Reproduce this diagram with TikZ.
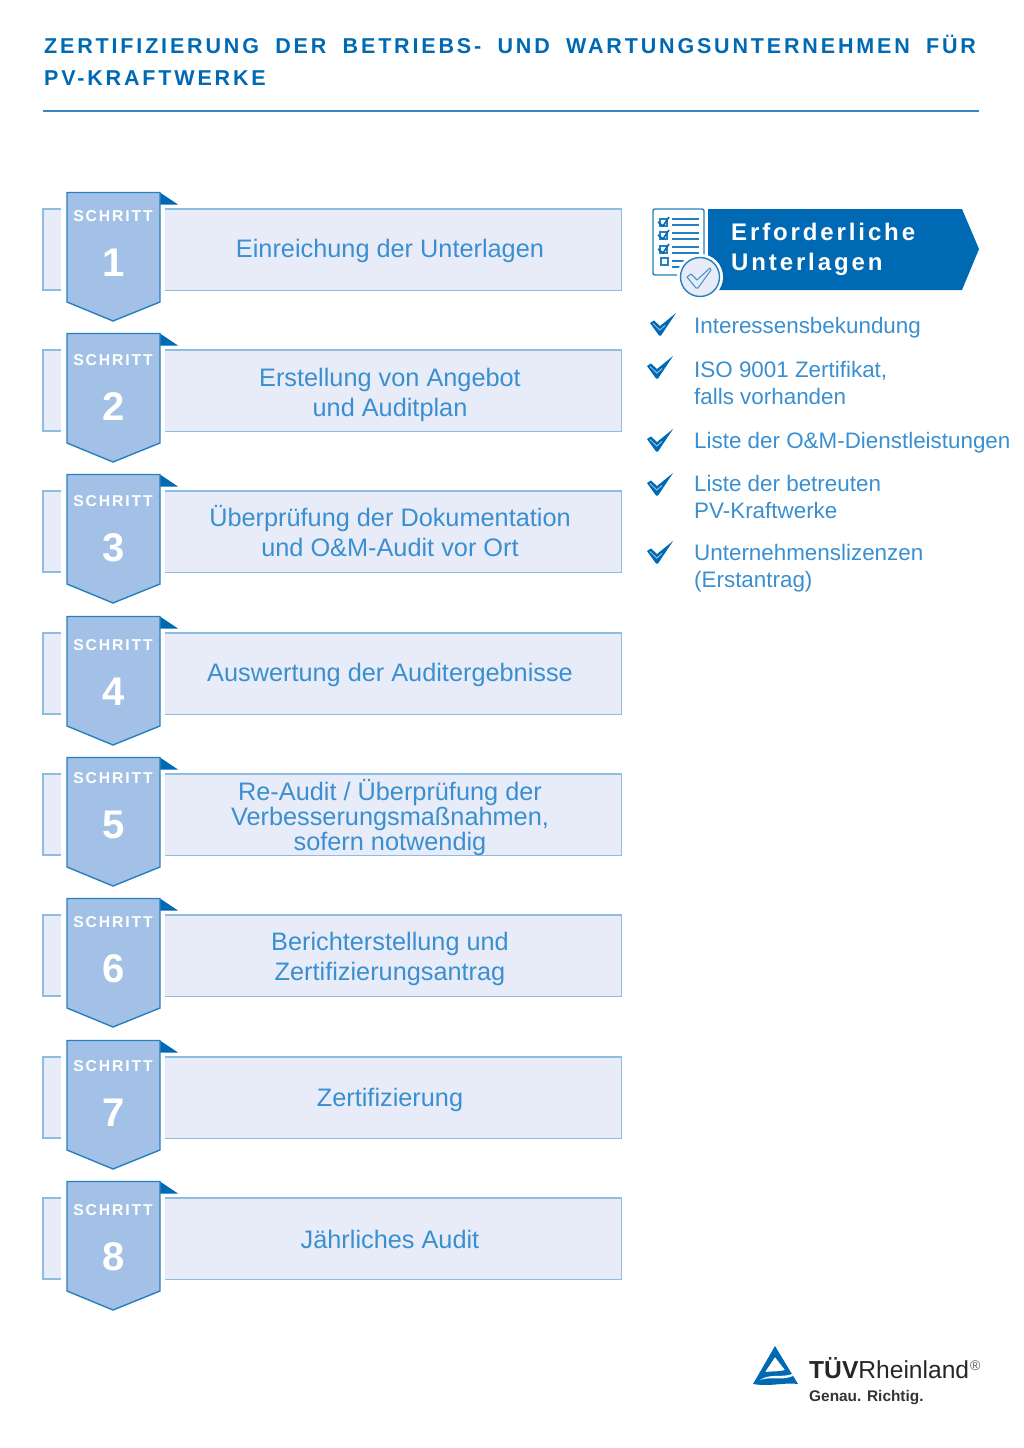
\documentclass[tikz,border=0pt]{standalone}
\usepackage{fontspec}
\setmainfont{Liberation Sans}
\newfontfamily\spacedfont[LetterSpace=12]{Liberation Sans}
\newfontfamily\titlefont[LetterSpace=13.2,WordSpace=1.85]{Liberation Sans}
\newfontfamily\bannerfont[LetterSpace=12]{Liberation Sans}
\definecolor{tuvblue}{HTML}{0069B4}
\definecolor{tuvtext}{HTML}{3A8FD0}
\definecolor{tuvline}{HTML}{8DBDE3}
\definecolor{tuvpale}{HTML}{E8ECF8}
\definecolor{tuvribbon}{HTML}{A3C1E6}
\tikzset{
  stepbox/.style={minimum width=456pt, minimum height=81pt, inner sep=0pt, anchor=north west, fill=tuvpale},
  boxtext/.style={text=tuvtext, font=\fontsize{25.3}{30}\selectfont, align=center},
  steplabel/.style={text=white, font=\spacedfont\bfseries\fontsize{15.7}{16}\selectfont},
  stepnumber/.style={text=white, font=\bfseries\fontsize{40}{40}\selectfont},
  listtext/.style={text=tuvtext, font=\fontsize{22.4}{26.5}\selectfont, align=left, anchor=west, inner sep=0pt},
  edge/.style={draw=tuvline, line width=1.5pt},
}
% one step: top of ribbon, top of box, name
\newcommand{\stepribbon}[3]{
  \fill[tuvpale] (43,#2) rectangle (61,#2+81);
  \draw[edge] (61,#2) -- (43,#2) -- (43,#2+81) -- (61,#2+81);
  \node[stepbox] (#3) at (165,#2) {};
  \draw[edge] (#3.north west) -- (#3.north east) -- (#3.south east) -- (#3.south west);
  \fill[tuvblue] (160,#1+.5) -- (178,#1+12.5) -- (160,#1+12.5) -- cycle;
  \draw[draw=tuvblue!85, fill=tuvribbon, line width=1.4pt] (67,#1+.5) -- (160,#1+.5) -- (160,#1+110) -- (113,#1+129) -- (67,#1+110) -- cycle;
}
\newcommand{\checkmark}[2]{
  \fill[tuvblue, shift={(#1,#2)}] (-1,-2) -- (3,-4.5) -- (9,1) -- (25,-12) -- (10,10.5) -- (8,10.5) -- cycle;
  \draw[tuvblue!35, line width=.8pt, shift={(#1,#2)}] (2,-1.5) -- (8.8,5) -- (14,.5);
}
\begin{document}
\begin{tikzpicture}[x=1pt, y=-1pt]
  \useasboundingbox (0,0) rectangle (1024,1448);

  \node[anchor=base west, inner sep=0pt, text=tuvblue, font=\titlefont\bfseries\fontsize{21.5}{26}\selectfont] (title1) at (44,53) {ZERTIFIZIERUNG DER BETRIEBS- UND WARTUNGSUNTERNEHMEN FÜR};
  \node[anchor=base west, inner sep=0pt, text=tuvblue, font=\titlefont\bfseries\fontsize{21.5}{26}\selectfont] (title2) at (44,85) {PV-KRAFTWERKE};
  \coordinate (ruleL) at (43,111);
  \coordinate (ruleR) at (979,111);
  \draw[tuvblue!80, line width=1.2pt] (ruleL) -- (ruleR);

  \stepribbon{192}{209}{box1}
  \stepribbon{333}{350}{box2}
  \stepribbon{474}{491}{box3}
  \stepribbon{616}{633}{box4}
  \stepribbon{757}{774}{box5}
  \stepribbon{898}{915}{box6}
  \stepribbon{1040}{1057}{box7}
  \stepribbon{1181}{1198}{box8}

  \node[steplabel] (label1) at (113,216) {SCHRITT};
  \node[steplabel] (label2) at (113,360) {SCHRITT};
  \node[steplabel] (label3) at (113,501) {SCHRITT};
  \node[steplabel] (label4) at (113,645) {SCHRITT};
  \node[steplabel] (label5) at (113,778) {SCHRITT};
  \node[steplabel] (label6) at (113,922) {SCHRITT};
  \node[steplabel] (label7) at (113,1066) {SCHRITT};
  \node[steplabel] (label8) at (113,1210) {SCHRITT};

  \node[stepnumber] (num1) at (113.5,263) {1};
  \node[stepnumber] (num2) at (113.5,407) {2};
  \node[stepnumber] (num3) at (113.5,548) {3};
  \node[stepnumber] (num4) at (113.5,692) {4};
  \node[stepnumber] (num5) at (113.5,825) {5};
  \node[stepnumber] (num6) at (113.5,969) {6};
  \node[stepnumber] (num7) at (113.5,1113) {7};
  \node[stepnumber] (num8) at (113.5,1257) {8};

  \node[boxtext] (text1) at (390,251) {Einreichung der Unterlagen};
  \node[boxtext] (text2) at (390,395) {Erstellung von Angebot\\und Auditplan};
  \node[boxtext] (text3) at (390,531) {Überprüfung der Dokumentation\\und O\&M-Audit vor Ort};
  \node[boxtext] (text4) at (390,675) {Auswertung der Auditergebnisse};
  \node[boxtext, font=\fontsize{25.3}{25}\selectfont] (text5) at (390,818) {Re-Audit / Überprüfung der\\Verbesserungsmaßnahmen,\\sofern notwendig};
  \node[boxtext] (text6) at (390,959) {Berichterstellung und\\Zertifizierungsantrag};
  \node[boxtext] (text7) at (390,1100) {Zertifizierung};
  \node[boxtext] (text8) at (390,1239) {Jährliches Audit};

  % banner
  \fill[tuvblue] (708,209) -- (962,209) -- (979,249) -- (962,290) -- (708,290) -- cycle;
  \node[anchor=west, inner sep=0pt, text=white, align=left, font=\bannerfont\bfseries\fontsize{24}{30}\selectfont] (banner) at (731,249.5) {Erforderliche\\Unterlagen};
  \draw[tuvblue!85, fill=white, line width=1.4pt, rounded corners=2pt] (653,209) rectangle (704,275);
  \draw[tuvblue!85, line width=1.4pt] (672,219) -- (699,219) (672,225) -- (699,225) (672,233) -- (699,233) (672,239) -- (699,239) (672,247) -- (699,247) (672,253) -- (699,253) (672,261) -- (687,261) (672,267) -- (684,267);
  \draw[tuvblue!85, line width=1.1pt] (660,219) rectangle (667,226) (660,232) rectangle (667,239) (660,246) rectangle (667,253) (661,258) rectangle (668,265);
  \draw[tuvblue, line width=1.6pt] (658,222) -- (663,226) -- (669,217) (658,235) -- (663,239) -- (669,230) (658,249) -- (663,253) -- (669,244);
  \node[fill=white, circle, minimum size=46pt, inner sep=0pt] (ring) at (700,277) {};
  \node[draw=tuvblue!85, fill=tuvpale, circle, line width=1.4pt, minimum size=39pt, inner sep=0pt] (badge) at (700,277) {};
  \draw[tuvblue!70, line width=1.1pt, line join=round] (687,277) -- (691,274) -- (697,280) -- (710,268) -- (711,270) -- (698,288) -- (696,288) -- cycle;

  % list
  \checkmark{651}{325}
  \checkmark{648}{368}
  \checkmark{648}{441}
  \checkmark{648}{485}
  \checkmark{648}{553}
  \node[listtext] (item1) at (694,327.5) {Interessensbekundung};
  \node[listtext] (item2) at (694,383) {ISO 9001 Zertifikat,\\falls vorhanden};
  \node[listtext] (item3) at (694,442.5) {Liste der O\&M-Dienstleistungen};
  \node[listtext] (item4) at (694,497) {Liste der betreuten\\PV-Kraftwerke};
  \node[listtext] (item5) at (694,568) {Unternehmenslizenzen\\(Erstantrag)};

  % logo
  \fill[tuvblue, even odd rule] (775,1346) -- (798,1384) .. controls (785,1382) and (770,1387) .. (753,1384) -- cycle
    (775,1357) -- (765,1372) .. controls (772,1371) and (779,1372) .. (785,1370) -- cycle;
  \fill[white!80!tuvpale] (760,1380) .. controls (770,1373) and (782,1378) .. (792,1374) -- (793,1376) .. controls (782,1381) and (770,1376) .. cycle;
  \node[anchor=base west, inner sep=0pt, font=\fontsize{24.6}{26}\selectfont, text=black!85] (brand) at (809,1378) {\textbf{TÜV}Rheinland};
  \node[anchor=base west, inner sep=0pt, font=\fontsize{14}{14}\selectfont, text=black!65] (reg) at (970,1370) {®};
  \node[anchor=base west, inner sep=0pt, font=\bfseries\fontsize{15.4}{18}\selectfont, text=black!80] (slogan) at (809,1401) {Genau. Richtig.};
\end{tikzpicture}
\end{document}
